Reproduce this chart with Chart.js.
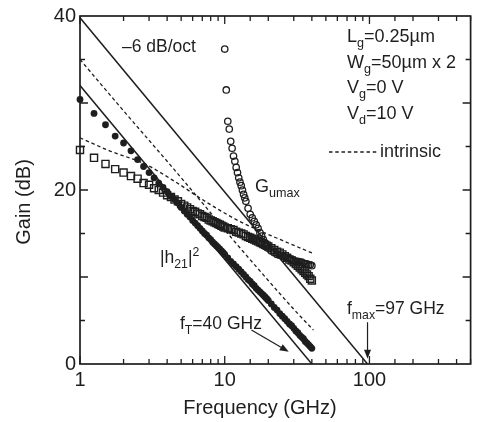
<!DOCTYPE html>
<html>
<head>
<meta charset="utf-8">
<script src="https://cdn.jsdelivr.net/npm/chart.js@4.4.1/dist/chart.umd.min.js"></script>
<style>
  html, body { margin: 0; padding: 0; background: #fff; }
  #c { display: block; }
</style>
</head>
<body>
<canvas id="c" width="477" height="422"></canvas>
<script>
const INK = '#1e1e1e';
const FONT = '"Liberation Sans", Arial, Helvetica, sans-serif';

// frecuencias de medida (GHz)
const FREQ = [1, 1.25, 1.5, 1.75, 2, 2.25, 2.5, 2.75, 3, 3.25, 3.5, 3.75, 4, 4.25, 4.5, 4.75,
  5, 5.25, 5.5, 5.75, 6, 6.25, 6.5, 6.75, 7, 7.25, 7.5, 7.75, 8, 8.25, 8.5, 8.75, 9, 9.25, 9.5, 9.75,
  10, 10.5, 11, 11.5, 12, 12.5, 13, 13.5, 14, 14.5, 15, 15.5, 16, 16.5, 17, 17.5, 18, 18.5, 19, 19.5,
  20, 21, 22, 23, 24, 25, 26, 27, 28, 29, 30, 31, 32, 33, 34, 35, 36, 37, 38, 39, 40];

// |h21|^2 (dB), puntos rellenos
const H21 = [30.4, 28.8, 27.5, 26.2, 25.4, 24.5, 23.5, 22.7, 22.0, 21.4, 20.8, 20.3, 19.8, 19.3, 18.9, 18.5,
  18.0, 17.6, 17.2, 16.9, 16.5, 16.2, 15.9, 15.6, 15.3, 15.0, 14.8, 14.5, 14.3, 14.0, 13.8, 13.6, 13.4, 13.2, 13.0, 12.8,
  12.6, 12.2, 11.8, 11.5, 11.2, 10.9, 10.6, 10.3, 10.0, 9.7, 9.5, 9.2, 9.0, 8.7, 8.5, 8.3, 8.1, 7.9, 7.7, 7.5,
  7.3, 6.9, 6.5, 6.2, 5.8, 5.5, 5.2, 4.9, 4.6, 4.4, 4.1, 3.8, 3.6, 3.3, 3.1, 2.9, 2.6, 2.4, 2.2, 2.0, 1.8];

// MSG/MAG (dB), cuadrados abiertos
const MSG = [24.6, 23.7, 23.0, 22.4, 22.0, 21.6, 21.3, 20.8, 20.6, 20.2, 20.0, 19.7, 19.4, 19.2, 18.9, 18.7,
  18.4, 18.2, 18.0, 17.8, 17.6, 17.5, 17.3, 17.2, 17.0, 16.9, 16.8, 16.6, 16.5, 16.4, 16.3, 16.2, 16.1, 16.0, 15.9, 15.8,
  15.7, 15.6, 15.5, 15.4, 15.2, 15.1, 15.0, 14.9, 14.7, 14.6, 14.5, 14.4, 14.3, 14.2, 14.1, 14.0, 13.9, 13.8, 13.7, 13.6,
  13.5, 13.3, 13.1, 12.9, 12.8, 12.6, 12.4, 12.2, 12.0, 11.9, 11.7, 11.5, 11.3, 11.1, 10.9, 10.7, 10.5, 10.3, 10.1, 9.8, 9.6];

// Gumax (dB), circulos abiertos, solo a partir de 10 GHz
const GU_FREQ = [10, 10.25, 10.5, 10.75, 11, 11.25, 11.5, 11.75, 12, 12.25, 12.5, 12.75, 13, 13.25, 13.5, 13.75,
  14, 14.5, 15, 15.5, 16, 16.5, 17, 17.5, 18, 18.5, 19, 19.5, 20,
  21, 22, 23, 24, 25, 26, 27, 28, 29, 30, 31, 32, 33, 34, 35, 36, 37, 38, 39, 40];
const GUMAX = [36.2, 31.5, 27.9, 27.0, 25.6, 24.8, 23.9, 23.3, 22.6, 22.0, 21.4, 20.9, 20.5, 20.0, 19.5, 19.1,
  18.7, 17.9, 17.2, 16.8, 16.4, 16.0, 15.6, 15.1, 14.7, 14.3, 13.9, 13.6, 13.3,
  13.0, 12.8, 12.6, 12.5, 12.4, 12.3, 12.2, 12.1, 12.0, 11.9, 11.8, 11.8, 11.7, 11.7, 11.6, 11.5, 11.5, 11.4, 11.4, 11.3];

// rectas de extrapolacion (-6 dB/oct)
const FMAX_LINE_F = [1, 97];
const FMAX_LINE_G = [39.8, 0];
const FT_LINE_F = [1, 40];
const FT_LINE_G = [32.0, 0];

// curvas intrinsecas (discontinuas)
const INTR_H21_F = [1, 2, 4, 7.1, 11, 20, 30, 41];
const INTR_H21_G = [35.0, 29.1, 23.3, 18.4, 14.6, 9.6, 6.3, 3.9];
const INTR_GU_F = [1, 1.6, 2.8, 4.7, 7, 12, 16, 25, 41];
const INTR_GU_G = [26.0, 24.5, 23.0, 20.8, 18.9, 16.6, 15.6, 14.2, 12.7];

const X_LABELS = [1, 10, 100];
const Y_LABELS = [0, 20, 40];

const toXY = (fs, gs) => fs.map((f, i) => ({ x: f, y: gs[i] }));

function drawRuns(ctx, x, y, parts, size) {
  let cx = x;
  parts.forEach(p => {
    const s = (p.sub || p.sup) ? size * 0.7 : size;
    ctx.font = s + 'px ' + FONT;
    const dy = p.sub ? size * 0.3 : (p.sup ? -size * 0.42 : 0);
    ctx.fillText(p.t, cx, y + dy);
    cx += ctx.measureText(p.t).width;
  });
}

function arrow(ctx, x0, y0, x1, y1) {
  const a = Math.atan2(y1 - y0, x1 - x0);
  ctx.beginPath();
  ctx.moveTo(x0, y0);
  ctx.lineTo(x1 - 6 * Math.cos(a), y1 - 6 * Math.sin(a));
  ctx.stroke();
  ctx.beginPath();
  ctx.moveTo(x1, y1);
  ctx.lineTo(x1 - 9 * Math.cos(a) + 3.5 * Math.sin(a), y1 - 9 * Math.sin(a) - 3.5 * Math.cos(a));
  ctx.lineTo(x1 - 9 * Math.cos(a) - 3.5 * Math.sin(a), y1 - 9 * Math.sin(a) + 3.5 * Math.cos(a));
  ctx.closePath();
  ctx.fill();
}

const framePlugin = {
  id: 'frame',
  afterDraw(chart) {
    const { ctx, chartArea: a, scales: { x, y } } = chart;
    ctx.save();
    ctx.strokeStyle = INK;
    ctx.fillStyle = INK;
    ctx.lineWidth = 1.7;
    ctx.strokeRect(a.left, a.top, a.right - a.left, a.bottom - a.top);

    // marcas hacia dentro
    ctx.lineWidth = 1.3;
    ctx.beginPath();
    x.ticks.forEach(t => {
      const px = x.getPixelForValue(t.value);
      const len = X_LABELS.includes(t.value) ? 8 : 5;
      ctx.moveTo(px, a.bottom); ctx.lineTo(px, a.bottom - len);
      ctx.moveTo(px, a.top); ctx.lineTo(px, a.top + len);
    });
    for (let v = 5; v < 40; v += 5) {
      const py = y.getPixelForValue(v);
      const len = v % 10 === 0 ? 8 : 5;
      ctx.moveTo(a.left, py); ctx.lineTo(a.left + len, py);
      ctx.moveTo(a.right, py); ctx.lineTo(a.right - len, py);
    }
    ctx.stroke();

    // titulos de ejes
    ctx.textBaseline = 'alphabetic';
    ctx.font = '20px ' + FONT;
    ctx.textAlign = 'center';
    ctx.fillText('Frequency (GHz)', 260, 414);
    ctx.save();
    ctx.translate(30, 202);
    ctx.rotate(-Math.PI / 2);
    ctx.fillText('Gain (dB)', 0, 0);
    ctx.restore();

    // anotaciones
    ctx.textAlign = 'left';
    drawRuns(ctx, 122, 52, [{ t: '\u20136 dB/oct' }], 17.5);
    drawRuns(ctx, 347, 42, [{ t: 'L' }, { t: 'g', sub: true }, { t: '=0.25\u00b5m' }], 18);
    drawRuns(ctx, 347, 68, [{ t: 'W' }, { t: 'g', sub: true }, { t: '=50\u00b5m x 2' }], 18);
    drawRuns(ctx, 347, 93, [{ t: 'V' }, { t: 'g', sub: true }, { t: '=0 V' }], 18);
    drawRuns(ctx, 347, 119, [{ t: 'V' }, { t: 'd', sub: true }, { t: '=10 V' }], 18);
    drawRuns(ctx, 380, 157, [{ t: 'intrinsic' }], 18);
    drawRuns(ctx, 255, 192, [{ t: 'G' }, { t: 'umax', sub: true }], 18);
    drawRuns(ctx, 160, 263, [{ t: '|h' }, { t: '21', sub: true }, { t: '|' }, { t: '2', sup: true }], 17.5);
    drawRuns(ctx, 180, 329, [{ t: 'f' }, { t: 'T', sub: true }, { t: '=40 GHz' }], 17.5);
    drawRuns(ctx, 347, 314, [{ t: 'f' }, { t: 'max', sub: true }, { t: '=97 GHz' }], 17.5);

    // muestra de la linea discontinua
    ctx.lineWidth = 1.3;
    ctx.setLineDash([3.5, 2.75]);
    ctx.beginPath();
    ctx.moveTo(329, 152); ctx.lineTo(379, 152);
    ctx.stroke();
    ctx.setLineDash([]);

    // flechas fT y fmax
    ctx.lineWidth = 1.2;
    arrow(ctx, x.getPixelForValue(15.3), y.getPixelForValue(3.9), x.getPixelForValue(27.7), y.getPixelForValue(1.4));
    arrow(ctx, x.getPixelForValue(97), y.getPixelForValue(4.8), x.getPixelForValue(97), y.getPixelForValue(0.6));
    ctx.restore();
  }
};

const lineDs = (fs, gs, dash) => ({
  type: 'line', data: toXY(fs, gs), borderColor: INK, borderWidth: dash ? 1.3 : 1.5,
  borderDash: dash ? [3.5, 2.75] : [], pointRadius: 0, fill: false, showLine: true,
  cubicInterpolationMode: dash ? 'monotone' : 'default', tension: 0
});

new Chart(document.getElementById('c'), {
  type: 'scatter',
  data: {
    datasets: [
      lineDs(FMAX_LINE_F, FMAX_LINE_G, false),
      lineDs(FT_LINE_F, FT_LINE_G, false),
      lineDs(INTR_H21_F, INTR_H21_G, true),
      lineDs(INTR_GU_F, INTR_GU_G, true),
      {
        label: '|h21|^2', data: toXY(FREQ, H21), pointStyle: 'circle', pointRadius: 3.4,
        backgroundColor: INK, borderColor: INK, borderWidth: 0, clip: false
      },
      {
        label: 'MSG', data: toXY(FREQ, MSG), pointStyle: 'rect', pointRadius: 5,
        backgroundColor: 'rgba(0,0,0,0)', borderColor: INK, borderWidth: 1.4, clip: false
      },
      {
        label: 'Gumax', data: toXY(GU_FREQ, GUMAX), pointStyle: 'circle', pointRadius: 3.2,
        backgroundColor: 'rgba(0,0,0,0)', borderColor: INK, borderWidth: 1.3, clip: false
      }
    ]
  },
  options: {
    responsive: false,
    animation: false,
    layout: { padding: { left: 0, right: 1, top: 14, bottom: 0 } },
    plugins: { legend: { display: false }, tooltip: { enabled: false } },
    scales: {
      x: {
        type: 'logarithmic', min: 1, max: 500,
        grid: { display: false, drawTicks: false }, border: { display: false },
        ticks: {
          autoSkip: false, maxRotation: 0, padding: 4, color: INK,
          font: { family: FONT, size: 20 },
          callback: v => X_LABELS.includes(v) ? String(v) : ''
        },
        afterFit: s => { s.height = 58; }
      },
      y: {
        type: 'linear', min: 0, max: 40,
        grid: { display: false, drawTicks: false }, border: { display: false },
        ticks: {
          stepSize: 20, padding: 4, color: INK, font: { family: FONT, size: 20 },
          callback: v => Y_LABELS.includes(v) ? String(v) : ''
        },
        afterFit: s => { s.width = 80; }
      }
    }
  },
  plugins: [framePlugin]
});
</script>
</body>
</html>
